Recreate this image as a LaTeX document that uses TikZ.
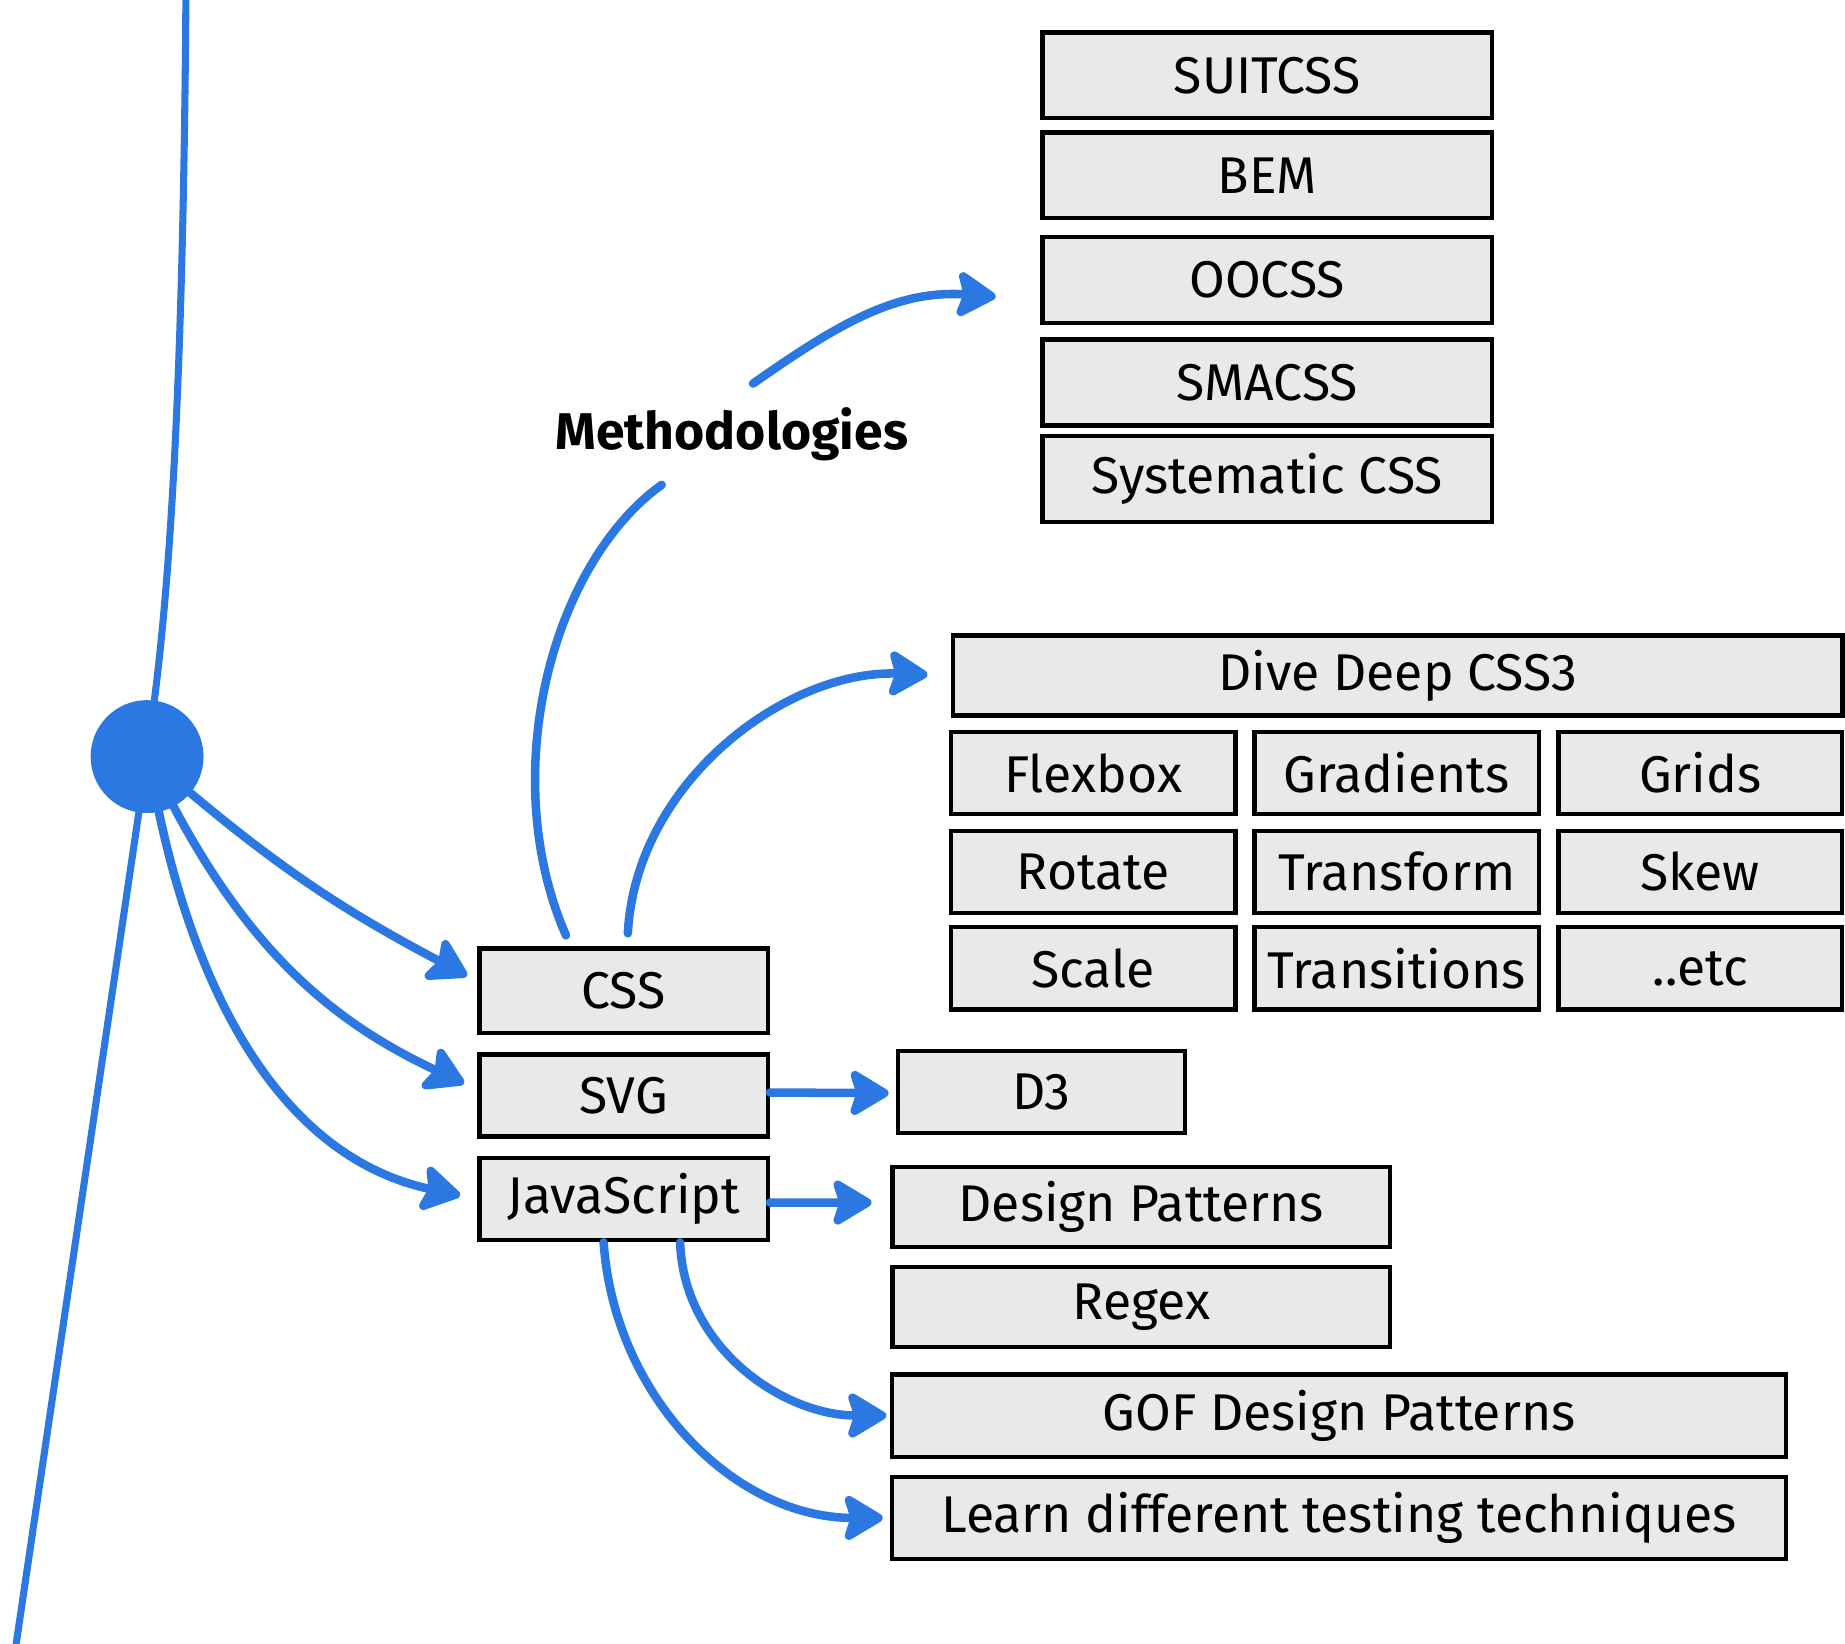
\documentclass[tikz,border=0pt]{standalone}
\usepackage{fontspec}
\setmainfont{Fira Sans}
\usetikzlibrary{arrows.meta}
\definecolor{linkblue}{HTML}{2C78E2}
\definecolor{boxgray}{HTML}{E9E9E9}
\begin{document}
\begin{tikzpicture}[x=0.02cm,y=-0.02cm,
  box/.style={draw=black, fill=boxgray, line width=0.075cm, inner sep=0pt, minimum height=1.42cm, font=\fontsize{25}{29}\selectfont},
  link/.style={draw=linkblue, line width=0.145cm, line cap=round, -{Stealth[length=0.76cm, width=0.9cm, inset=0.14cm, round]}},
  plain/.style={draw=linkblue, line width=0.12cm, line cap=round}]
\useasboundingbox (0,0) rectangle (1568,1397);

% methodology boxes
\node[box, minimum width=7.64cm, minimum height=1.46cm] (suit) at (1077,64) {SUITCSS};
\node[box, minimum width=7.64cm, minimum height=1.46cm] (bem) at (1077,149) {BEM};
\node[box, minimum width=7.64cm, minimum height=1.46cm] (oocss) at (1077,238) {OOCSS};
\node[box, minimum width=7.64cm, minimum height=1.46cm] (smacss) at (1077,325) {SMACSS};
\node[box, minimum width=7.64cm, minimum height=1.46cm] (sys) at (1077,407) {Systematic CSS};

% CSS3 boxes
\node[box, minimum width=15.12cm, minimum height=1.36cm] (dive) at (1188,574) {Dive Deep CSS3};
\node[box, minimum width=4.84cm, minimum height=1.4cm] (flex) at (929,657) {Flexbox};
\node[box, minimum width=4.84cm, minimum height=1.4cm] (grad) at (1187,657) {Gradients};
\node[box, minimum width=4.82cm, minimum height=1.4cm] (grids) at (1445,657) {Grids};
\node[box, minimum width=4.84cm, minimum height=1.4cm] (rot) at (929,741) {Rotate};
\node[box, minimum width=4.84cm, minimum height=1.4cm] (trf) at (1187,741) {Transform};
\node[box, minimum width=4.82cm, minimum height=1.4cm] (skew) at (1445,741) {Skew};
\node[box, minimum width=4.84cm, minimum height=1.4cm] (scale) at (929,823) {Scale};
\node[box, minimum width=4.84cm, minimum height=1.4cm] (trans) at (1187,823) {Transitions};
\node[box, minimum width=4.82cm, minimum height=1.4cm] (etc) at (1445,823) {..etc};

% main topics
\node[box, minimum width=4.9cm, minimum height=1.44cm] (css) at (530,842) {CSS};
\node[box, minimum width=4.9cm, minimum height=1.4cm] (svg) at (530,931) {SVG};
\node[box, minimum width=4.9cm, minimum height=1.4cm] (js) at (530,1019) {JavaScript};

% sub topics
\node[box, minimum width=4.88cm, minimum height=1.4cm] (d3) at (885,928) {D3};
\node[box, minimum width=8.46cm, minimum height=1.36cm] (dp) at (970,1026) {Design Patterns};
\node[box, minimum width=8.46cm, minimum height=1.36cm] (regex) at (970,1111) {Regex};
\node[box, minimum width=15.2cm, minimum height=1.4cm] (gof) at (1138,1203) {GOF Design Patterns};
\node[box, minimum width=15.2cm, minimum height=1.4cm] (learn) at (1138,1290) {Learn different testing techniques};

% hub and spine
\node[circle, fill=linkblue, minimum size=1.92cm, inner sep=0pt] (hub) at (125,643) {};
\coordinate (top) at (158,-5);
\coordinate (bottom) at (13,1402);
\draw[plain] (top) .. controls (156,300) and (146,480) .. (hub);
\draw[plain] (hub) -- (bottom);

% label
\node[font=\bfseries\fontsize{25}{29}\selectfont, inner sep=0.4cm] (meth) at (622,369) {Methodologies};

% connectors
\draw[link, shorten >=0.2cm] (hub) to[out=-40, in=152] ([yshift=0.16cm]css.west);
\draw[link, shorten >=0.25cm] (hub) to[out=-62, in=155] ([yshift=0.1cm]svg.west);
\draw[link, shorten >=0.3cm] (hub) to[out=-78, in=168] (js.west);

\draw[plain, line width=0.145cm, shorten <=0.2cm] ([xshift=-0.9cm]css.north) .. controls (422,660) and (468,480) .. (meth);
\draw[link] ([xshift=0.36cm]meth.north) to[out=35, in=176] ([yshift=-0.28cm, xshift=-0.76cm]oocss.west);

\draw[link, shorten <=0.22cm, shorten >=0.4cm] ([xshift=0.06cm]css.north) to[out=87, in=178] (dive.west);

\draw[link, shorten >=0.12cm] ([yshift=0.05cm]svg.east) -- ([yshift=-0.02cm]d3.west);
\draw[link, shorten >=0.32cm] ([yshift=-0.06cm]js.east) -- ([yshift=0.08cm]dp.west);
\draw[link, shorten >=0.06cm] ([xshift=0.96cm]js.south) to[out=-88, in=180] (gof.west);
\draw[link, shorten >=0.12cm] ([xshift=-0.34cm]js.south) to[out=-86, in=180] (learn.west);
\end{tikzpicture}
\end{document}
